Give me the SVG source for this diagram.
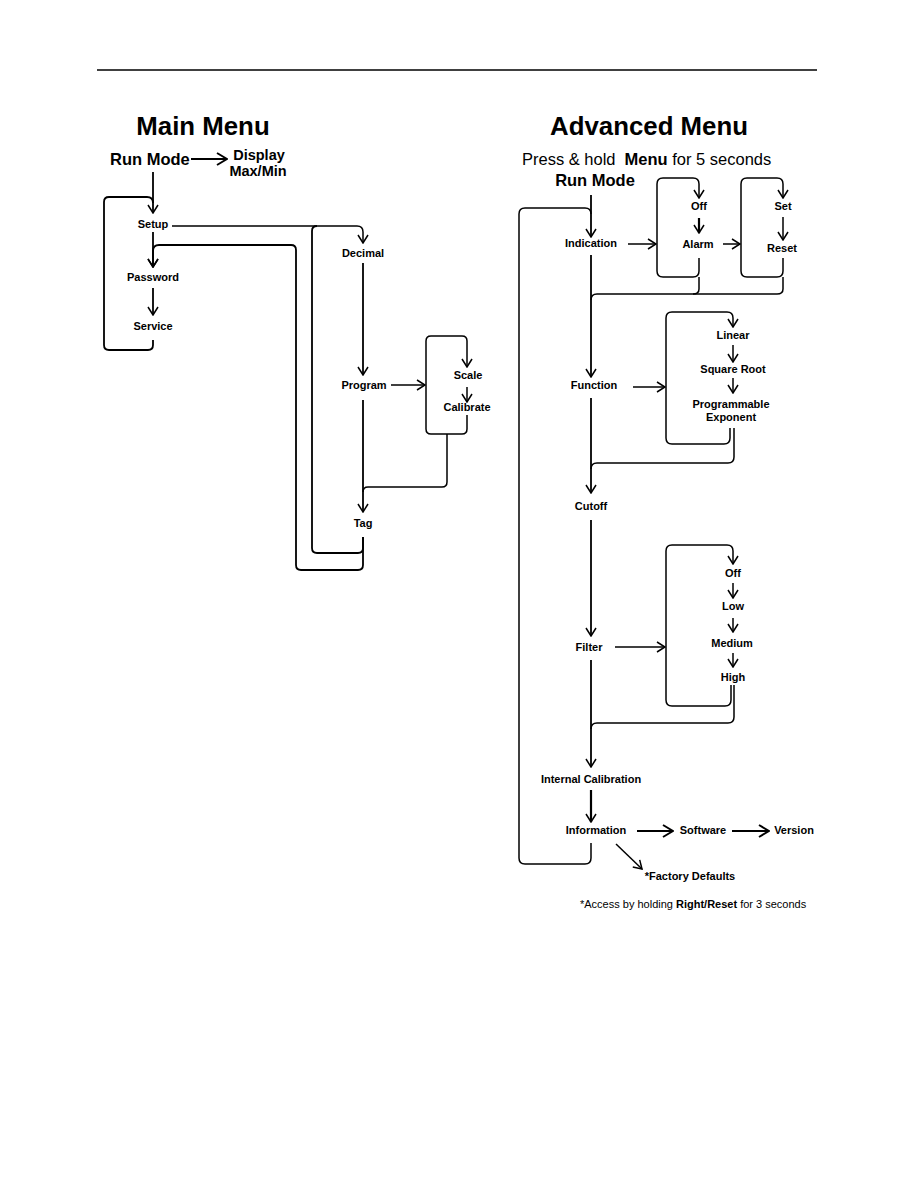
<svg xmlns="http://www.w3.org/2000/svg" width="918" height="1188" viewBox="0 0 918 1188">
<style>
text{font-family:"Liberation Sans",Arial,sans-serif;fill:#000}
.t{font-size:25.8px;font-weight:bold;text-anchor:middle}
.rm{font-size:16.5px;font-weight:bold}
.d{font-size:14.5px;font-weight:bold;text-anchor:middle}
.l{font-size:11px;font-weight:bold;text-anchor:middle}
.c{fill:none;stroke:#000;stroke-width:1.8;stroke-linejoin:round}
.c2{fill:none;stroke:#000;stroke-width:1.5;stroke-linejoin:round}
.th{fill:none;stroke:#000;stroke-width:2.2}
.a{marker-end:url(#ah)}
.ab{marker-end:url(#ahb)}
</style>
<defs>
<marker id="ah" viewBox="0 0 10 12" refX="9" refY="6" markerWidth="10" markerHeight="12" markerUnits="userSpaceOnUse" orient="auto">
<path d="M1,1 L9,6 L1,11" fill="none" stroke="#000" stroke-width="1.5"/>
</marker>
<marker id="ahb" viewBox="0 0 12 14" refX="11" refY="7" markerWidth="12" markerHeight="14" markerUnits="userSpaceOnUse" orient="auto">
<path d="M1,1 L11,7 L1,13" fill="none" stroke="#000" stroke-width="2"/>
</marker>
</defs>
<line x1="97" y1="70" x2="817" y2="70" stroke="#000" stroke-width="1.5"/>

<g id="connectors">
<!-- Main menu -->
<path class="th ab" d="M191,159 H227"/>
<path class="c a" d="M153,172 V213"/>
<path class="c" d="M153,340 V345 Q153,350 148,350 H109 Q104,350 104,345 V202 Q104,197 109,197 H147 Q153,197 153,203"/>
<path class="c a" d="M153,232 V267"/>
<path class="c a" d="M153,288 V315"/>
<path class="c2 a" d="M172,226 H357 Q363,226 363,232 V243"/>
<path class="c a" d="M363,263 V375"/>
<path class="c2 a" d="M391,385 H425"/>
<path class="c2 a" d="M467,415 V429 Q467,434 462,434 H431 Q426,434 426,429 V341 Q426,336 431,336 H462 Q467,336 467,341 V367"/>
<path class="c2 a" d="M467,387 V402"/>
<path class="c2" d="M447,434 V482 Q447,487 442,487 H368 Q363,487 363,492"/>
<path class="c a" d="M363,400 V512"/>
<path class="c" d="M363,537 V548 Q363,553 358,553 H317 Q312,553 312,548 V231 Q312,226 317,226"/>
<path class="c a" d="M363,537 V565 Q363,570 358,570 H301 Q296,570 296,565 V250 Q296,245 291,245 H159 Q153,245 153,251 V267"/>
<!-- Advanced menu -->
<path class="c a" d="M591,195 V237"/>
<path class="c2" d="M591,843 V858 Q591,864 585,864 H525 Q519,864 519,858 V214 Q519,208 525,208 H585 Q591,208 591,214"/>
<path class="c2 a" d="M628,244 H656"/>
<path class="c2 a" d="M699,258 V271 Q699,277 693,277 H663 Q657,277 657,271 V184 Q657,178 663,178 H693 Q699,178 699,184 V198"/>
<path class="th a" d="M699,218 V233"/>
<path class="c2 a" d="M723,244 H740"/>
<path class="c2 a" d="M783,258 V271 Q783,277 777,277 H747 Q741,277 741,271 V184 Q741,178 747,178 H777 Q783,178 783,184 V198"/>
<path class="c2 a" d="M783,217 V240"/>
<path class="c2" d="M783,277 V289 Q783,294 777,294 H597 Q591,294 591,300"/>
<path class="c2" d="M699,277 V289 Q699,294 693,294"/>
<path class="c a" d="M591,255 V377"/>
<path class="c2 a" d="M633,387 H665"/>
<path class="c2 a" d="M730,428 V438 Q730,444 724,444 H672 Q666,444 666,438 V318 Q666,312 672,312 H727 Q733,312 733,318 V327"/>
<path class="c2 a" d="M733,345 V362"/>
<path class="c2 a" d="M733,378 V393"/>
<path class="c2" d="M734,428 V457 Q734,463 728,463 H597 Q591,463 591,469"/>
<path class="c a" d="M591,398 V493"/>
<path class="c a" d="M591,520 V636"/>
<path class="c2 a" d="M615,647 H665"/>
<path class="c2 a" d="M731,685 V700 Q731,706 725,706 H672 Q666,706 666,700 V551 Q666,545 672,545 H727 Q733,545 733,551 V564"/>
<path class="c2 a" d="M733,583 V598"/>
<path class="c2 a" d="M733,618 V632"/>
<path class="c2 a" d="M733,653 V667"/>
<path class="c2" d="M734,685 V717 Q734,723 728,723 H597 Q591,723 591,729"/>
<path class="c a" d="M591,660 V767"/>
<path class="th a" d="M591,790 V822"/>
<path class="th ab" d="M637,831 H673"/>
<path class="th ab" d="M732,831 H769"/>
<path class="c2 a" d="M616,844 L642,869"/>
</g>

<!-- Main menu -->
<g id="main-title"><text class="t" x="203" y="135">Main Menu</text></g>
<g id="m-runmode"><text class="rm" x="110" y="165">Run Mode</text></g>
<g id="m-display"><text class="d" x="259" y="160">Display</text><text class="d" x="258" y="176">Max/Min</text></g>
<g id="m-setup"><text class="l" x="153" y="228">Setup</text></g>
<g id="m-password"><text class="l" x="153" y="281">Password</text></g>
<g id="m-service"><text class="l" x="153" y="330">Service</text></g>
<g id="m-decimal"><text class="l" x="363" y="257">Decimal</text></g>
<g id="m-program"><text class="l" x="364" y="389">Program</text></g>
<g id="m-scale"><text class="l" x="468" y="379">Scale</text></g>
<g id="m-calibrate"><text class="l" x="467" y="411">Calibrate</text></g>
<g id="m-tag"><text class="l" x="363" y="527">Tag</text></g>

<!-- Advanced menu -->
<g id="adv-title"><text class="t" x="649" y="135">Advanced Menu</text></g>
<g id="adv-press"><text x="522" y="165" style="font-size:16.5px">Press &amp; hold<tspan dx="9" font-weight="bold">Menu</tspan> for 5 seconds</text></g>
<g id="a-runmode"><text class="rm" x="595" y="186" text-anchor="middle">Run Mode</text></g>
<g id="a-indication"><text class="l" x="591" y="247">Indication</text></g>
<g id="a-off1"><text class="l" x="699" y="210">Off</text></g>
<g id="a-alarm"><text class="l" x="698" y="248">Alarm</text></g>
<g id="a-set"><text class="l" x="783" y="210">Set</text></g>
<g id="a-reset"><text class="l" x="782" y="252">Reset</text></g>
<g id="a-function"><text class="l" x="594" y="389">Function</text></g>
<g id="a-linear"><text class="l" x="733" y="339">Linear</text></g>
<g id="a-sqroot"><text class="l" x="733" y="373">Square Root</text></g>
<g id="a-progexp"><text class="l" x="731" y="408">Programmable</text><text class="l" x="731" y="421">Exponent</text></g>
<g id="a-cutoff"><text class="l" x="591" y="510">Cutoff</text></g>
<g id="a-filter"><text class="l" x="589" y="651">Filter</text></g>
<g id="a-off2"><text class="l" x="733" y="577">Off</text></g>
<g id="a-low"><text class="l" x="733" y="610">Low</text></g>
<g id="a-medium"><text class="l" x="732" y="647">Medium</text></g>
<g id="a-high"><text class="l" x="733" y="681">High</text></g>
<g id="a-intcal"><text class="l" x="591" y="783">Internal Calibration</text></g>
<g id="a-information"><text class="l" x="596" y="834">Information</text></g>
<g id="a-software"><text class="l" x="703" y="834">Software</text></g>
<g id="a-version"><text class="l" x="794" y="834">Version</text></g>
<g id="a-factory"><text class="l" x="690" y="880">*Factory Defaults</text></g>
<g id="a-note"><text x="580" y="908" style="font-size:11px">*Access by holding <tspan font-weight="bold">Right/Reset</tspan> for 3 seconds</text></g>
</svg>
